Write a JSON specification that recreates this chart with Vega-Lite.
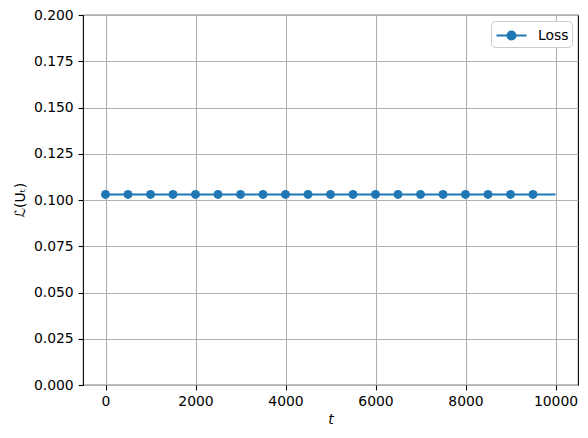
{
  "$schema": "https://vega.github.io/schema/vega-lite/v6.json",
  "width": 495,
  "height": 370,
  "autosize": "none",
  "padding": {"left": 83, "top": 15, "right": 10, "bottom": 53},
  "background": "white",
  "config": {
    "font": "DejaVu Sans",
    "view": {"stroke": "black", "strokeWidth": 1.1},
    "axis": {
      "labelFont": "DejaVu Sans", "labelFontSize": 13.9, "labelColor": "black",
      "titleFont": "DejaVu Sans", "titleFontSize": 13.9, "titleColor": "black", "titleFontWeight": "normal",
      "tickColor": "black", "tickSize": 4.9, "tickWidth": 1.1,
      "domain": false,
      "grid": true, "gridColor": "#b0b0b0", "gridWidth": 1.1,
      "labelPadding": 4.9
    }
  },
  "data": {"values": [
    {"t": 0, "loss": 0.103, "series": "Loss"},
    {"t": 500, "loss": 0.103, "series": "Loss"},
    {"t": 1000, "loss": 0.103, "series": "Loss"},
    {"t": 1500, "loss": 0.103, "series": "Loss"},
    {"t": 2000, "loss": 0.103, "series": "Loss"},
    {"t": 2500, "loss": 0.103, "series": "Loss"},
    {"t": 3000, "loss": 0.103, "series": "Loss"},
    {"t": 3500, "loss": 0.103, "series": "Loss"},
    {"t": 4000, "loss": 0.103, "series": "Loss"},
    {"t": 4500, "loss": 0.103, "series": "Loss"},
    {"t": 5000, "loss": 0.103, "series": "Loss"},
    {"t": 5500, "loss": 0.103, "series": "Loss"},
    {"t": 6000, "loss": 0.103, "series": "Loss"},
    {"t": 6500, "loss": 0.103, "series": "Loss"},
    {"t": 7000, "loss": 0.103, "series": "Loss"},
    {"t": 7500, "loss": 0.103, "series": "Loss"},
    {"t": 8000, "loss": 0.103, "series": "Loss"},
    {"t": 8500, "loss": 0.103, "series": "Loss"},
    {"t": 9000, "loss": 0.103, "series": "Loss"},
    {"t": 9500, "loss": 0.103, "series": "Loss"},
    {"t": 10000, "loss": 0.103, "series": "Loss"}
  ]},
  "encoding": {
    "x": {
      "field": "t", "type": "quantitative",
      "scale": {"domain": [-500, 10500], "nice": false, "zero": false},
      "axis": {"values": [0, 2000, 4000, 6000, 8000, 10000], "format": "d", "title": "t", "titleFontStyle": "italic", "titlePadding": 4}
    },
    "y": {
      "field": "loss", "type": "quantitative",
      "scale": {"domain": [0, 0.2], "nice": false},
      "axis": {"values": [0, 0.025, 0.05, 0.075, 0.1, 0.125, 0.15, 0.175, 0.2], "format": ".3f", "title": "ℒ(Uₜ)", "titlePadding": 6}
    },
    "color": {
      "field": "series", "type": "nominal",
      "scale": {"range": ["#1f77b4"]},
      "legend": {
        "title": null, "orient": "top-right", "offset": 6,
        "labelFont": "DejaVu Sans", "labelFontSize": 13.9, "labelColor": "black", "labelOffset": 21,
        "strokeColor": "#cccccc", "fillColor": "white", "cornerRadius": 4, "padding": 3,
        "symbolType": "M-0.9,0H2.1M1,0A0.4,0.4 0 1,1 0.2,0A0.4,0.4 0 1,1 1,0Z",
        "symbolSize": 400, "symbolStrokeWidth": 2.1,
        "symbolFillColor": "#1f77b4", "symbolStrokeColor": "#1f77b4", "symbolOpacity": 1
      }
    }
  },
  "layer": [
    {"mark": {"type": "line", "strokeWidth": 2.1}},
    {
      "transform": [{"filter": "datum.t <= 9500"}],
      "mark": {"type": "point", "filled": true, "size": 80, "opacity": 1}
    }
  ]
}
